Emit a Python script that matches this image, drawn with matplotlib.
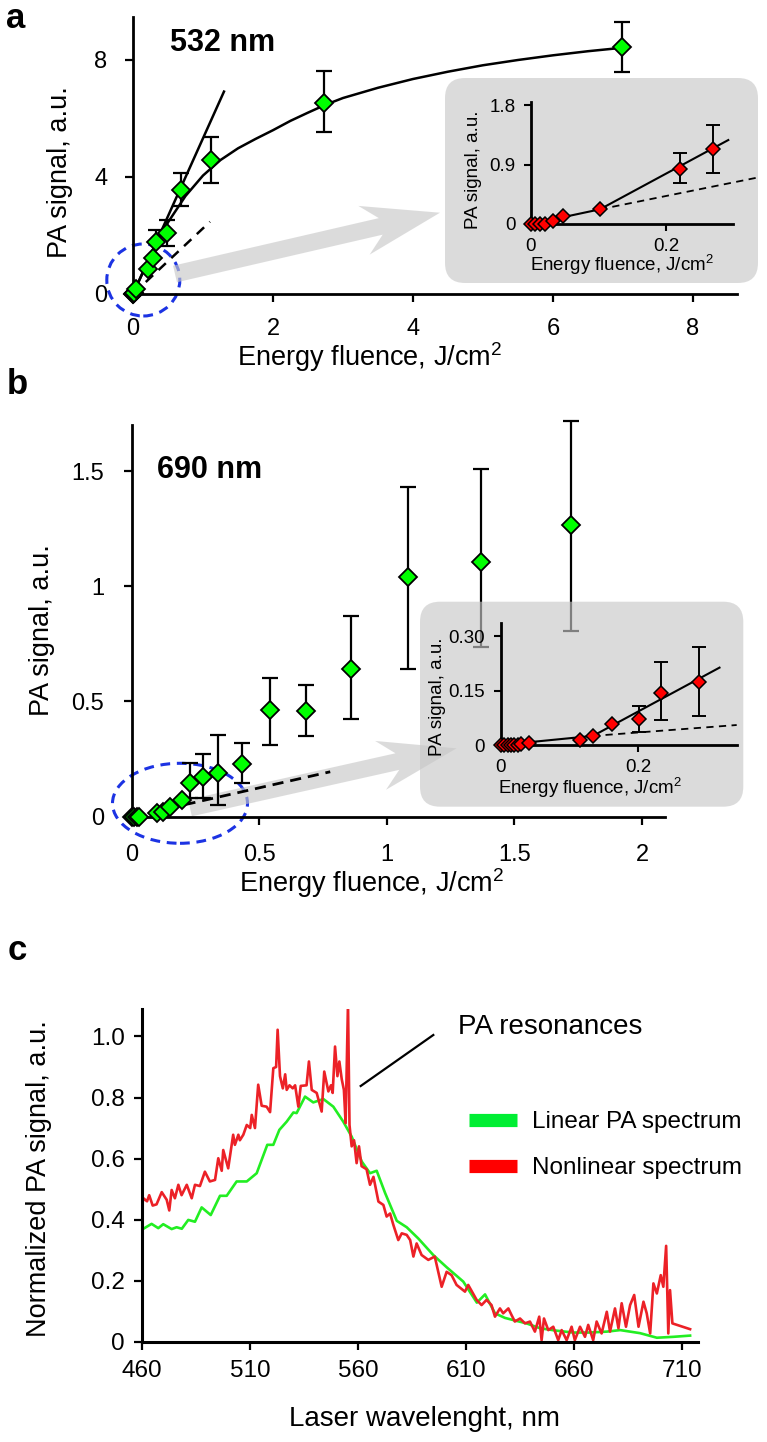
import matplotlib
matplotlib.use('Agg')
import matplotlib.pyplot as plt
from matplotlib.patches import FancyBboxPatch, Ellipse, FancyArrow
from matplotlib.ticker import FixedLocator, FixedFormatter
from matplotlib.lines import Line2D

plt.rcParams['font.family'] = ['Liberation Sans', 'DejaVu Sans']
plt.rcParams['mathtext.fontset'] = 'custom'
plt.rcParams['mathtext.rm'] = 'Liberation Sans'
plt.rcParams['mathtext.it'] = 'Liberation Sans:italic'

# ---------------- data ----------------
# panel a (532 nm) main
a_x = [0.0, 0.005, 0.01, 0.02, 0.04, 0.21, 0.28, 0.33, 0.48, 0.69, 1.11, 2.73, 6.99]
a_y = [0.0, 0.0, 0.02, 0.05, 0.16, 0.84, 1.24, 1.79, 2.07, 3.56, 4.58, 6.52, 8.44]
a_err_x = [0.33, 0.48, 0.69, 1.11, 2.73, 6.99]
a_err_y = [1.79, 2.07, 3.56, 4.58, 6.52, 8.44]
a_err_lo = [1.79, 1.64, 3.02, 3.81, 5.55, 7.60]
a_err_hi = [2.19, 2.53, 4.12, 5.38, 7.63, 9.30]
a_fit_x = [0, 0.25, 0.5, 0.75, 1.0, 1.25, 1.5, 1.75, 2.0, 2.25, 2.5, 2.75, 3.0, 3.5, 4.0, 4.5, 5.0, 5.5, 6.0, 6.5, 7.0]
a_fit_y = [0, 1.3, 2.45, 3.35, 4.05, 4.58, 4.98, 5.3, 5.6, 5.92, 6.2, 6.47, 6.7, 7.05, 7.35, 7.6, 7.82, 8.0, 8.16, 8.3, 8.42]
a_lin_x = [0, 1.3]
a_lin_y = [0, 6.92]
a_low_x = [0, 1.1]
a_low_y = [0, 2.47]

# panel a inset
ai_x = [0.0, 0.006, 0.013, 0.021, 0.032, 0.048, 0.102, 0.22, 0.27]
ai_y = [0.0, 0.0, 0.0, 0.0, 0.05, 0.126, 0.222, 0.832, 1.139]
ai_err_x = [0.22, 0.27]
ai_err_y = [0.832, 1.139]
ai_err_lo = [0.616, 0.776]
ai_err_hi = [1.07, 1.49]
ai_fit_x = [0, 0.102, 0.292]
ai_fit_y = [0, 0.222, 1.27]
ai_dash_x = [0.102, 0.337]
ai_dash_y = [0.222, 0.706]

# panel b (690 nm) main
b_x = [0.0, 0.01, 0.02, 0.03, 0.10, 0.124, 0.15, 0.196, 0.229, 0.281, 0.34, 0.431,
       0.542, 0.684, 0.86, 1.081, 1.37, 1.723]
b_y = [0.0, 0.0, 0.0, 0.0, 0.015, 0.02, 0.04, 0.072, 0.147, 0.174, 0.188, 0.228,
       0.465, 0.459, 0.64, 1.04, 1.107, 1.267]
b_err_x = [0.229, 0.281, 0.34, 0.431, 0.542, 0.684, 0.86, 1.081, 1.37, 1.723]
b_err_y = [0.147, 0.174, 0.188, 0.228, 0.465, 0.459, 0.64, 1.04, 1.107, 1.267]
b_err_lo = [0.08, 0.08, 0.05, 0.145, 0.313, 0.35, 0.423, 0.642, 0.736, 0.805]
b_err_hi = [0.231, 0.27, 0.354, 0.322, 0.60, 0.573, 0.873, 1.429, 1.51, 1.717]
b_dash_x = [0, 0.778]
b_dash_y = [0, 0.195]

# panel b inset
bi_x = [0.0, 0.005, 0.01, 0.015, 0.02, 0.025, 0.03, 0.041, 0.115, 0.134, 0.162, 0.201, 0.233, 0.288]
bi_y = [0.0, 0.0, 0.0, 0.0, 0.0, 0.0, 0.002, 0.005, 0.014, 0.025, 0.058, 0.071, 0.144, 0.174]
bi_err_x = [0.201, 0.233, 0.288]
bi_err_y = [0.071, 0.144, 0.174]
bi_err_lo = [0.037, 0.069, 0.08]
bi_err_hi = [0.107, 0.228, 0.27]
bi_fit_x = [0, 0.134, 0.318]
bi_fit_y = [0, 0.025, 0.213]
bi_dash_x = [0.134, 0.343]
bi_dash_y = [0.025, 0.055]

# panel c spectra
lin_wl = [460, 464.3, 467.4, 469.7, 473.6, 475.9, 478.3, 481.3, 484.4, 487.5, 491.7, 496, 499.1,
          503.7, 508.4, 513, 517.9, 520.7, 523.5, 526.9, 530, 531.5, 535.4, 539.2, 543.9, 548.5,
          553.1, 557, 561.7, 565.5, 568.6, 572.5, 577.9, 582.5, 587.9, 594.8, 601, 608.7, 613,
          615, 618.8, 623.4, 628, 633.5, 638, 644.3, 652, 659.7, 667, 675.2, 681.4, 690.6, 698.4,
          706.1, 713.8]
lin_val = [0.368, 0.386, 0.372, 0.385, 0.369, 0.375, 0.37, 0.399, 0.393, 0.44, 0.415, 0.478, 0.478,
           0.525, 0.525, 0.552, 0.645, 0.645, 0.694, 0.721, 0.751, 0.749, 0.803, 0.784, 0.795, 0.77,
           0.721, 0.672, 0.59, 0.552, 0.56, 0.487, 0.396, 0.375, 0.338, 0.284, 0.244, 0.197, 0.15,
           0.128, 0.155, 0.093, 0.078, 0.068, 0.06, 0.044, 0.036, 0.03, 0.03, 0.033, 0.038, 0.028,
           0.013, 0.016, 0.02]
nl_wl = [460, 460.5, 462.2, 463.2, 464.8, 466.6, 469, 471.3, 472.5, 473.6, 475.1, 476.7, 478.2,
         480.6, 482.9, 484.4, 486.7, 489, 491.3, 493.7, 495.2, 496.8, 497.5, 499.8, 502.1, 502.9,
         504.5, 505.2, 506.8, 508.4, 510, 510.7, 512.2, 513.7, 515.3, 517.6, 519.2, 520.7, 522,
         522.7, 523.8, 525.1, 526.2, 526.9, 528.2, 529.7, 530.8, 532.3, 533.4, 536.1, 537.2, 538.5,
         540.8, 543.1, 544.3, 546.2, 547.4, 548.2, 549.3, 550.4, 551.3, 552.4, 553.4, 554.2, 555.3,
         556, 557, 558.1, 559.3, 560.4, 561.6, 563.9, 565.5, 567.1, 569.4, 571.7, 573.2, 574.8,
         576.3, 578.6, 580.2, 582.5, 584.1, 585.6, 587.1, 589.4, 592.5, 595.5, 598.7, 601, 603.3,
         605.6, 609.5, 611, 614.9, 617.2, 619.5, 621.8, 623.4, 625.7, 627.2, 629.6, 631.1, 632.6,
         635, 637.3, 639.6, 641.9, 643.9, 645, 646.1, 648.1, 650.4, 652.7, 654.3, 656.6, 658.9,
         660.4, 662.8, 665.1, 666.6, 668.9, 670.5, 672.8, 675.2, 676.7, 679, 680.6, 682.1, 684.1,
         686, 687.9, 689.9, 692.2, 693.7, 695.3, 696.8, 698.4, 700.2, 701.4, 702.7, 703.7, 704.5,
         705.6, 713.8]
nl_val = [0.45, 0.47, 0.46, 0.48, 0.446, 0.45, 0.49, 0.465, 0.43, 0.497, 0.47, 0.514, 0.48,
          0.514, 0.47, 0.514, 0.51, 0.557, 0.525, 0.53, 0.601, 0.56, 0.628, 0.568, 0.678, 0.645,
          0.678, 0.66, 0.678, 0.71, 0.70, 0.743, 0.70, 0.842, 0.773, 0.77, 0.752, 0.896, 0.90,
          1.022, 0.87, 0.83, 0.876, 0.825, 0.84, 0.83, 0.84, 0.77, 0.838, 0.84, 0.918, 0.825,
          0.815, 0.754, 0.885, 0.82, 0.84, 0.815, 0.967, 0.87, 0.918, 0.86, 0.825, 0.716, 1.11,
          0.71, 0.64, 0.66, 0.585, 0.64, 0.575, 0.565, 0.514, 0.54, 0.459, 0.448, 0.41, 0.42,
          0.383, 0.333, 0.355, 0.35, 0.333, 0.279, 0.322, 0.284, 0.268, 0.279, 0.18, 0.229, 0.218,
          0.186, 0.164, 0.186, 0.137, 0.12, 0.137, 0.12, 0.082, 0.109, 0.093, 0.109, 0.087, 0.066,
          0.076, 0.06, 0.066, 0.033, 0.082, 0.005, 0.076, 0.038, 0.049, 0.005, 0.038, 0.005, 0.049,
          0.005, 0.049, 0.016, 0.055, 0.005, 0.066, 0.027, 0.098, 0.033, 0.109, 0.044, 0.126, 0.049,
          0.12, 0.153, 0.049, 0.131, 0.093, 0.027, 0.191, 0.158, 0.218, 0.18, 0.314, 0.027, 0.169,
          0.06, 0.041]

# ---------------- figure ----------------
W, H = 767, 1442
fig = plt.figure(figsize=(W / 100, H / 100), dpi=100)


def add_ax(l, t, r, b, **kw):
    return fig.add_axes([l / W, 1 - b / H, (r - l) / W, (b - t) / H], **kw)


def inch(x, y):
    return x / 100, (H - y) / 100


def style(ax, lw=2.0, tl=6, tw=1.6, fs=17, xpad=3, ypad=3):
    for s in ['top', 'right']:
        ax.spines[s].set_visible(False)
    for s in ['left', 'bottom']:
        ax.spines[s].set_linewidth(lw)
    ax.tick_params(direction='out', length=tl, width=tw, labelsize=fs)
    ax.tick_params(axis='x', pad=xpad)
    ax.tick_params(axis='y', pad=ypad)
    ax.patch.set_alpha(0)


GREEN = '#00ff00'
RED = '#ff0000'
BOXC = '#c8c8c8'
BOXA = 0.64
BLUE = '#1c33e3'


def points(ax, x, y, ex, ey, elo, ehi, color, ms, mew=1.3, cap=6, elw=1.6):
    lo = [v - l for v, l in zip(ey, elo)]
    hi = [h - v for v, h in zip(ey, ehi)]
    ax.errorbar(ex, ey, yerr=[lo, hi], fmt='none', ecolor='black', elinewidth=elw,
                capsize=cap, capthick=elw, zorder=3, clip_on=False)
    ax.plot(x, y, 'D', ms=ms, mfc=color, mec='black', mew=mew, zorder=4, clip_on=False,
            ls='none')


def arrow(ax, x0, y0, x1, y1):
    (a, b), (c, d) = inch(x0, y0), inch(x1, y1)
    ar = FancyArrow(a, b, c - a, d - b, width=0.17, head_width=0.50, head_length=0.78,
                    overhang=0.22, length_includes_head=True, transform=fig.dpi_scale_trans,
                    fc=BOXC, alpha=BOXA, ec='none', zorder=1.5)
    ax.add_artist(ar)
    ar.set_clip_on(False)


def ellipse(ax, cx, cy, w, h):
    e = Ellipse(inch(cx, cy), w / 100, h / 100, transform=fig.dpi_scale_trans, fill=False,
                ec=BLUE, lw=2.2, ls=(0, (3.2, 2.2)), zorder=1.2)
    ax.add_artist(e)
    e.set_clip_on(False)


def inset_box(l, t, r, b):
    x, y = inch(l, b)
    p = FancyBboxPatch((x, y), (r - l) / 100, (b - t) / 100,
                       boxstyle='round,pad=0,rounding_size=0.2',
                       transform=fig.dpi_scale_trans, fc=BOXC, alpha=BOXA, ec='none', zorder=1)
    fig.add_artist(p)


XL = r'Energy fluence, J/cm$^{\mathrm{2}}$'
YL = 'PA signal, a.u.'

# ---------- panel a ----------
axA = add_ax(133, 17, 737, 294)
style(axA, xpad=11.5, ypad=12.5)
axA.set_xlim(0, 8.63)
axA.set_ylim(0, 9.47)
axA.set_xticks([0, 2, 4, 6, 8])
axA.set_yticks([0, 4, 8])
ellipse(axA, 143.3, 280, 73, 72)
arrow(axA, 175, 274, 440, 212.7)
axA.plot(a_fit_x, a_fit_y, '-', color='black', lw=1.8, zorder=2)
axA.plot(a_lin_x, a_lin_y, '-', color='black', lw=1.8, zorder=2)
axA.plot(a_low_x, a_low_y, '--', color='black', lw=1.8, dashes=(4, 3), zorder=2)
points(axA, a_x, a_y, a_err_x, a_err_y, a_err_lo, a_err_hi, GREEN, ms=9.6)
axA.set_xlabel(XL, fontsize=19.5, va='center')
axA.xaxis.set_label_coords((370 - 133) / 604, -(357 - 294) / 277)
axA.set_ylabel(YL, fontsize=19.5, va='center')
axA.yaxis.set_label_coords(-(133 - 60) / 604, (294 - 172) / 277)
fig.text(170 / W, 1 - 43 / H, '532 nm', fontsize=22, fontweight='bold', va='center')

# inset a
inset_box(445, 78, 758, 283)
axAi = add_ax(531, 101.7, 733, 224, zorder=2)
style(axAi, lw=2.0, tl=5, tw=1.5, fs=13.5, xpad=5, ypad=6)
axAi.set_xlim(0, 0.299)
axAi.set_ylim(0, 1.85)
axAi.xaxis.set_major_locator(FixedLocator([0, 0.2]))
axAi.xaxis.set_major_formatter(FixedFormatter(['0', '0.2']))
axAi.yaxis.set_major_locator(FixedLocator([0, 0.9, 1.8]))
axAi.yaxis.set_major_formatter(FixedFormatter(['0', '0.9', '1.8']))
axAi.plot(ai_fit_x, ai_fit_y, '-', color='black', lw=1.5, zorder=2)
axAi.plot(ai_dash_x, ai_dash_y, '--', color='black', lw=1.3, dashes=(4, 3), zorder=2,
          clip_on=False)
points(axAi, ai_x, ai_y, ai_err_x, ai_err_y, ai_err_lo, ai_err_hi, RED, ms=7.2, mew=1.1,
       cap=5, elw=1.4)
axAi.set_xlabel(XL, fontsize=13.5, va='center')
axAi.xaxis.set_label_coords((621.7 - 531) / 202, -(265 - 224) / 122.3)
axAi.set_ylabel(YL, fontsize=13.5, va='center')
axAi.yaxis.set_label_coords(-(531 - 473) / 202, (224 - 170) / 122.3)

# ---------- panel b ----------
axB = add_ax(131.7, 425, 665, 816.7)
style(axB, xpad=14, ypad=14)
axB.set_xlim(0, 2.09)
axB.set_ylim(0, 1.70)
axB.xaxis.set_major_locator(FixedLocator([0, 0.5, 1, 1.5, 2]))
axB.xaxis.set_major_formatter(FixedFormatter(['0', '0.5', '1', '1.5', '2']))
axB.yaxis.set_major_locator(FixedLocator([0, 0.5, 1, 1.5]))
axB.yaxis.set_major_formatter(FixedFormatter(['0', '0.5', '1', '1.5']))
ellipse(axB, 180, 803.3, 135, 80)
arrow(axB, 190, 808, 456.7, 748.3)
axB.plot(b_dash_x, b_dash_y, '--', color='black', lw=2.0, dashes=(4, 2.5), zorder=2)
points(axB, b_x, b_y, b_err_x, b_err_y, b_err_lo, b_err_hi, GREEN, ms=9.2)
axB.set_xlabel(XL, fontsize=19.5, va='center')
axB.xaxis.set_label_coords((372 - 131.7) / 533.3, -(883 - 816.7) / 391.7)
axB.set_ylabel(YL, fontsize=19.5, va='center')
axB.yaxis.set_label_coords(-(131.7 - 42) / 533.3, (816.7 - 630) / 391.7)
fig.text(157 / W, 1 - 470 / H, '690 nm', fontsize=22, fontweight='bold', va='center')

# inset b
inset_box(420, 601.7, 743.3, 806.7)
axBi = add_ax(500.7, 623.3, 736.7, 745, zorder=2)
style(axBi, lw=2.0, tl=5, tw=1.5, fs=13.5, xpad=5, ypad=6.5)
axBi.set_xlim(0, 0.343)
axBi.set_ylim(0, 0.335)
axBi.xaxis.set_major_locator(FixedLocator([0, 0.2]))
axBi.xaxis.set_major_formatter(FixedFormatter(['0', '0.2']))
axBi.yaxis.set_major_locator(FixedLocator([0, 0.15, 0.30]))
axBi.yaxis.set_major_formatter(FixedFormatter(['0', '0.15', '0.30']))
axBi.plot(bi_fit_x, bi_fit_y, '-', color='black', lw=1.5, zorder=2)
axBi.plot(bi_dash_x, bi_dash_y, '--', color='black', lw=1.3, dashes=(4, 3), zorder=2,
          clip_on=False)
points(axBi, bi_x, bi_y, bi_err_x, bi_err_y, bi_err_lo, bi_err_hi, RED, ms=7.4, mew=1.1,
       cap=5, elw=1.4)
axBi.set_xlabel(XL, fontsize=13.5, va='center')
axBi.xaxis.set_label_coords((590 - 500.7) / 236, -(788 - 745) / 121.7)
axBi.set_ylabel(YL, fontsize=13.5, va='center')
axBi.yaxis.set_label_coords(-(500.7 - 438) / 236, (745 - 696.7) / 121.7)

# ---------- panel c ----------
axC = add_ax(142.3, 1009, 698.3, 1341.7)
style(axC, lw=2.2, fs=17.5, xpad=7, ypad=6.5)
axC.set_xlim(460, 717.6)
axC.set_ylim(0, 1.09)
axC.set_xticks([460, 510, 560, 610, 660, 710])
axC.yaxis.set_major_locator(FixedLocator([0, 0.2, 0.4, 0.6, 0.8, 1.0]))
axC.yaxis.set_major_formatter(FixedFormatter(['0', '0.2', '0.4', '0.6', '0.8', '1.0']))
axC.plot(lin_wl, lin_val, '-', color='#22ee22', lw=1.9, label='Linear PA spectrum')
axC.plot(nl_wl, nl_val, '-', color='#ec2127', lw=1.9, label='Nonlinear spectrum')
axC.set_xlabel('Laser wavelenght, nm', fontsize=20, va='center')
axC.xaxis.set_label_coords((425 - 142.3) / 556, -(1419 - 1341.7) / 332.7)
axC.set_ylabel('Normalized PA signal, a.u.', fontsize=19.5, va='center')
axC.yaxis.set_label_coords(-(142.3 - 39) / 556, (1341.7 - 1179) / 332.7)
h1 = Line2D([], [], color='#00ee33', lw=9.5, solid_capstyle='butt')
h2 = Line2D([], [], color='#ff0000', lw=9.5, solid_capstyle='butt')
leg = axC.legend([h1, h2], ['Linear PA spectrum', 'Nonlinear spectrum'], loc='upper left',
                 bbox_to_anchor=(469 / W, 1 - 1111 / H), bbox_transform=fig.transFigure,
                 frameon=False, fontsize=17.5, handlelength=1.98, handletextpad=0.62,
                 labelspacing=1.0, borderpad=0, borderaxespad=0)
# annotation
(x0, y0), (x1, y1) = inch(360.7, 1086), inch(433.3, 1035)
axC.add_artist(Line2D([x0, x1], [y0, y1], color='black', lw=1.6,
                      transform=fig.dpi_scale_trans, clip_on=False))
fig.text(458 / W, 1 - 1027 / H, 'PA resonances', fontsize=20, va='center')

# panel letters
fig.text(16 / W, 1 - 18.5 / H, 'a', fontsize=25, fontweight='bold', ha='center', va='center')
fig.text(17 / W, 1 - 385 / H, 'b', fontsize=25, fontweight='bold', ha='center', va='center')
fig.text(17 / W, 1 - 951 / H, 'c', fontsize=25, fontweight='bold', ha='center', va='center')

fig.savefig('out.png', dpi=100)
